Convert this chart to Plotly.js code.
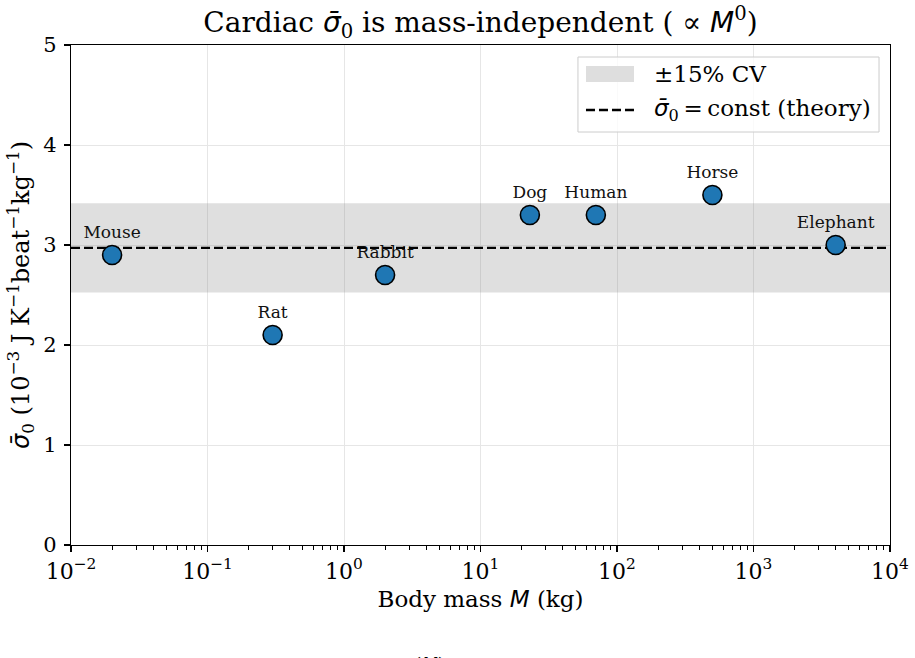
<!DOCTYPE html>
<html>
<head>
<meta charset="utf-8">
<script src="https://cdn.plot.ly/plotly-3.0.1.min.js"></script>
<style>
  html, body { margin: 0; padding: 0; background: #fff; }
  #chart { width: 915px; height: 658px; }
</style>
</head>
<body>
<div id="chart"></div>
<script>
// Species, body mass (kg) and cardiac sigma-bar-0 (1e-3 J K^-1 beat^-1 kg^-1)
const species = ["Mouse", "Rat", "Rabbit", "Dog", "Human", "Horse", "Elephant"];
const massKg = [0.02, 0.3, 2, 23, 70, 500, 4000];
const sigma0 = [2.9, 2.1, 2.7, 3.3, 3.3, 3.5, 3.0];

// Axis ticks
const xTickVals = [0.01, 0.1, 1, 10, 100, 1000, 10000];
const xTickText = ["10<sup>−2</sup>", "10<sup>−1</sup>", "10<sup>0</sup>", "10<sup>1</sup>",
                   "10<sup>2</sup>", "10<sup>3</sup>", "10<sup>4</sup>"];
const yTickVals = [0, 1, 2, 3, 4, 5];

// Constant-theory level and ±15% coefficient-of-variation band
const mean = sigma0.reduce((a, b) => a + b, 0) / sigma0.length;
const cv = 0.15;
const bandLo = mean * (1 - cv);
const bandHi = mean * (1 + cv);
const xSpan = [xTickVals[0], xTickVals[xTickVals.length - 1]];

// Minor log ticks (2..9 in each decade)
const minorVals = [];
for (let d = -2; d < 4; d++) {
  for (let k = 2; k <= 9; k++) minorVals.push(k * Math.pow(10, d));
}

const SERIF = "DejaVu Serif, serif";
const mathIt = s => `<span style="font-family:'DejaVu Sans'"><i>${s}</i></span>`;
const SIGMA = mathIt("σ̄") + "<sub>0</sub>";
const BAND_FILL = "rgba(128,128,128,0.25)";
const DASH = "9px,4px";

const traces = [
  {
    x: [xSpan[0], xSpan[1], xSpan[1], xSpan[0], xSpan[0]],
    y: [bandLo, bandLo, bandHi, bandHi, bandLo],
    mode: "lines",
    fill: "toself",
    fillcolor: BAND_FILL,
    line: { width: 0, color: "rgba(0,0,0,0)" },
    hoverinfo: "skip"
  },
  {
    // species labels sit beneath the theory line
    x: massKg,
    y: sigma0,
    text: species,
    mode: "markers+text",
    textposition: "top center",
    textfont: { family: SERIF, size: 17, color: "#111" },
    marker: { size: 19, color: "rgba(0,0,0,0)", line: { width: 0 } },
    hoverinfo: "skip"
  },
  {
    x: xSpan,
    y: [mean, mean],
    mode: "lines",
    line: { color: "#000", width: 2.4, dash: DASH }
  },
  {
    x: massKg,
    y: sigma0,
    mode: "markers",
    marker: { size: 19, color: "#1f77b4", line: { color: "#000", width: 1.6 } }
  }
];

// Legend drawn in paper coordinates
const legBox = { x0: 0.619, x1: 0.9866, y0: 0.826, y1: 0.976 };
const legKey = { x0: 0.6288, x1: 0.6874 };
const legRows = [0.942, 0.870];
const legTextX = 0.7094;

const layout = {
  width: 915,
  height: 658,
  margin: { l: 71, r: 25, t: 45, b: 113 },
  paper_bgcolor: "#fff",
  plot_bgcolor: "#fff",
  font: { family: SERIF, size: 20, color: "#000" },
  showlegend: false,
  title: {
    text: "Cardiac " + SIGMA + " is mass-independent ( ∝ " + mathIt("M") + "<sup>0</sup>)",
    font: { family: SERIF, size: 28, color: "#000" },
    xref: "paper", x: 0.5, xanchor: "center",
    y: 0.966, yanchor: "middle"
  },
  xaxis: {
    type: "log",
    range: [-2, 4],
    tickmode: "array",
    tickvals: xTickVals,
    ticktext: xTickText,
    tickfont: { family: SERIF, size: 22 },
    ticks: "outside", ticklen: 6, tickwidth: 1.2, tickcolor: "#000",
    showline: true, linecolor: "#000", linewidth: 1.3, mirror: true,
    showgrid: true, gridcolor: "#e6e6e6", gridwidth: 1,
    zeroline: false,
    minor: { tickmode: "array", tickvals: minorVals, ticks: "outside", ticklen: 3.5, tickwidth: 1, tickcolor: "#000", showgrid: false },
    title: { text: "Body mass " + mathIt("M") + " (kg)", font: { family: SERIF, size: 23 }, standoff: 8 }
  },
  yaxis: {
    range: [0, 5],
    tickmode: "array",
    tickvals: yTickVals,
    tickfont: { family: SERIF, size: 21 },
    ticks: "outside", ticklen: 6, tickwidth: 1.2, tickcolor: "#000",
    ticklabelstandoff: 3,
    showline: true, linecolor: "#000", linewidth: 1.3, mirror: true,
    showgrid: true, gridcolor: "#e6e6e6", gridwidth: 1,
    zeroline: false,
    title: {
      text: SIGMA + " (10<sup>−3</sup> J K<sup>−1</sup>beat<sup>−1</sup>kg<sup>−1</sup>)",
      font: { family: SERIF, size: 24 }, standoff: 6
    }
  },
  shapes: [
    {
      type: "rect", xref: "paper", yref: "paper", layer: "above",
      x0: legBox.x0, x1: legBox.x1, y0: legBox.y0, y1: legBox.y1,
      fillcolor: "rgba(255,255,255,0.8)", line: { color: "#cccccc", width: 1 }
    },
    {
      type: "rect", xref: "paper", yref: "paper", layer: "above",
      x0: legKey.x0, x1: legKey.x1, y0: legRows[0] - 0.016, y1: legRows[0] + 0.016,
      fillcolor: "#dedede", line: { width: 0 }
    },
    {
      type: "line", xref: "paper", yref: "paper", layer: "above",
      x0: legKey.x0, x1: legKey.x1, y0: legRows[1], y1: legRows[1],
      line: { color: "#000", width: 2.4, dash: DASH }
    }
  ],
  annotations: [
    {
      xref: "paper", yref: "paper", x: legTextX, y: legRows[0],
      xanchor: "left", yanchor: "middle", showarrow: false,
      text: "±15% CV", font: { family: SERIF, size: 23, color: "#000" }
    },
    {
      xref: "paper", yref: "paper", x: legTextX, y: legRows[1],
      xanchor: "left", yanchor: "middle", showarrow: false,
      text: SIGMA + "\u2009=\u2009const (theory)", font: { family: SERIF, size: 23, color: "#000" }
    },
    {
      xref: "paper", yref: "paper",
      x: 0.438, y: -0.212, xanchor: "center", yanchor: "top",
      text: "(" + mathIt("M") + ")", showarrow: false,
      font: { family: SERIF, size: 19, color: "#000" }
    }
  ]
};

Plotly.newPlot("chart", traces, layout, { displayModeBar: false, staticPlot: true });
</script>
</body>
</html>
